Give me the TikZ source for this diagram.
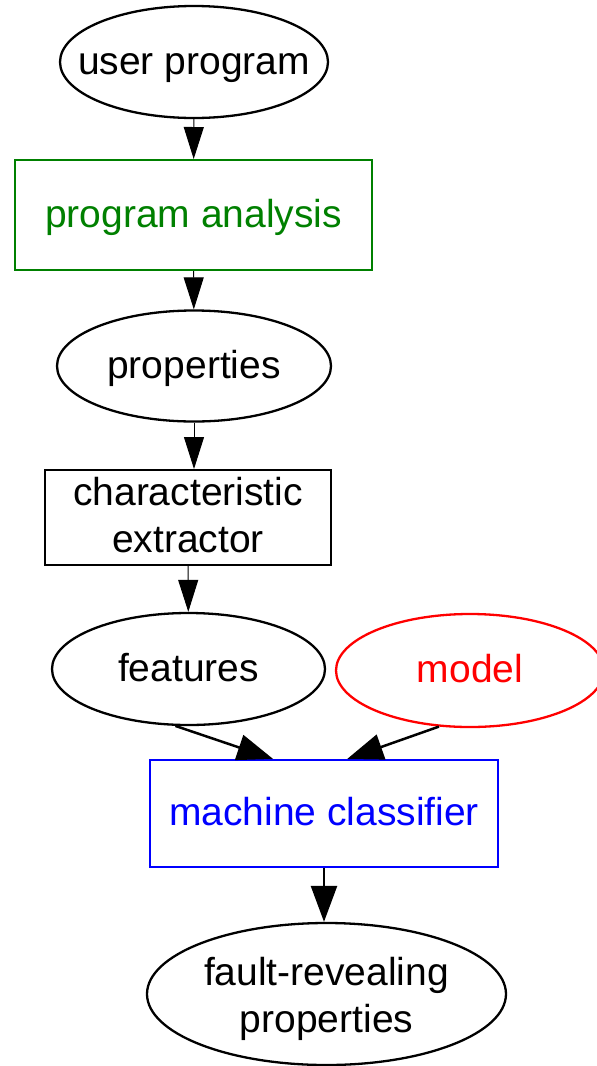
\documentclass[tikz,border=0pt]{standalone}
\usepackage{fontspec}
\setmainfont{Liberation Sans}
\usetikzlibrary{shapes.geometric,arrows.meta}
\definecolor{pagreen}{RGB}{0,128,0}
\definecolor{mcblue}{RGB}{0,0,255}
\definecolor{mdred}{RGB}{255,0,0}
\newcommand{\onel}[1]{\makebox[0pt]{#1}}
\newcommand{\twol}[2]{\makebox[0pt]{\begin{tabular}[t]{@{}c@{}}#1\\#2\end{tabular}}}
\begin{document}
\begin{tikzpicture}[x=1pt,y=-1pt,
  txt/.style={font=\fontsize{39}{47}\selectfont, inner sep=0pt},
  one/.style={txt, text height=30pt, text depth=6pt},
  oval/.style={ellipse, draw, line width=2.3pt},
  box/.style={rectangle, draw, line width=2pt},
  thinarrow/.style={-{Triangle[length=32pt,width=20pt]}, line width=1pt},
  thickarrow/.style={-{Triangle[length=36pt,width=26pt]}, line width=2.5pt},
]
\useasboundingbox (0,0) rectangle (597,1066);

% pipeline nodes
\node[one, oval, minimum width=268pt, minimum height=112pt] (user) at (194,62) {\onel{user program}};
\node[one, box, draw=pagreen, text=pagreen, minimum width=357pt, minimum height=110pt] (pa) at (193.5,215) {\onel{program analysis}};
\node[one, oval, minimum width=274pt, minimum height=111pt] (props) at (194,366) {\onel{properties}};
\node[txt, text height=35pt, text depth=60pt, box, minimum width=286pt, minimum height=93pt] (ce) at (188,517.5) {\twol{characteristic}{extractor}};
\node[one, oval, minimum width=273pt, minimum height=112pt] (feat) at (188.5,669) {\onel{features}};
\node[one, oval, draw=mdred, text=mdred, minimum width=268pt, minimum height=113pt] (model) at (470,670.5) {\onel{model}};
\node[one, box, draw=mcblue, text=mcblue, minimum width=348pt, minimum height=107pt] (mc) at (324,813.5) {\onel{machine classifier}};
\node[txt, text height=38pt, text depth=56pt, oval, minimum width=359pt, minimum height=142pt] (fault) at (326.5,994) {\twol{fault-revealing}{properties}};

% connectors
\draw[thinarrow] (user) -- (pa);
\draw[thinarrow] (pa) -- (props);
\draw[thinarrow] (props) -- (props |- ce.north);
\draw[thinarrow] (ce) -- (feat);
\draw[thickarrow] (feat.-103) -- (mc.133);
\draw[thickarrow] (model.-119) -- (mc.67);
\draw[thickarrow] (mc.south) -- (mc.south |- fault.north);
\end{tikzpicture}
\end{document}
